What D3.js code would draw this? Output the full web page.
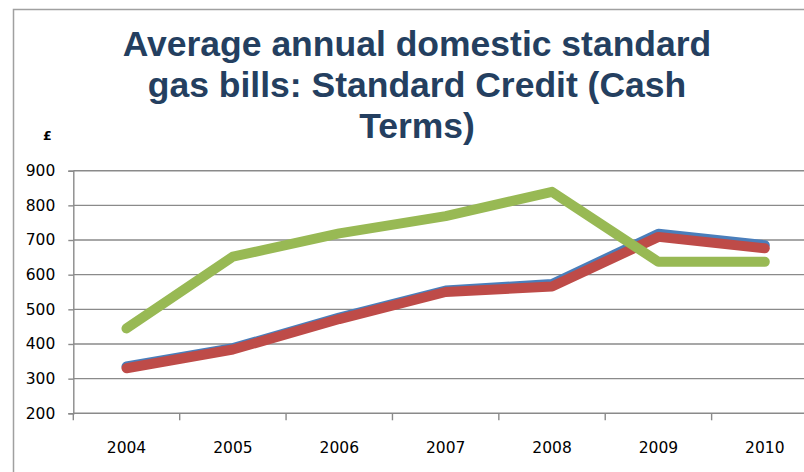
<!DOCTYPE html>
<html>
<head>
<meta charset="utf-8">
<script src="https://cdn.jsdelivr.net/npm/d3@7"></script>
<style>
  html, body { margin: 0; padding: 0; background: #ffffff; }
  svg { display: block; }
</style>
</head>
<body>
<script>
// ---- data ----
const years = ["2004", "2005", "2006", "2007", "2008", "2009", "2010"];
const seriesBlue  = [335, 388, 476, 554, 573, 718, 685];
const seriesRed   = [330, 384, 472, 550, 566, 709, 676];
const seriesGreen = [445, 652, 719, 769, 839, 637, 637];
const yTicks = [200, 300, 400, 500, 600, 700, 800, 900];
const titleLines = ["Average annual domestic standard", "gas bills: Standard Credit (Cash", "Terms)"];
const unitLabel = "£";

const W = 804, H = 472;
const svg = d3.select("body").append("svg").attr("width", W).attr("height", H);

// chart border (extends beyond the visible area on right and bottom)
svg.append("rect")
  .attr("x", 13.5).attr("y", 9.5)
  .attr("width", W + 20).attr("height", H + 20)
  .attr("fill", "#ffffff").attr("stroke", "#a0a0a0").attr("stroke-width", 1.5);

// title
const title = svg.append("text")
  .attr("text-anchor", "middle")
  .attr("font-family", "'Liberation Sans', Arimo, Arial, sans-serif")
  .attr("font-weight", "bold")
  .attr("font-size", 35.5)
  .attr("fill", "#243F60");
titleLines.forEach((t, i) => {
  title.append("tspan").attr("x", 417).attr("y", 56 + i * 41).text(t);
});

// unit label
svg.append("text")
  .attr("x", 43).attr("y", 140)
  .attr("font-family", "'DejaVu Sans', sans-serif")
  .attr("font-weight", "bold")
  .attr("font-size", 12.5)
  .attr("fill", "#000")
  .text(unitLabel);

// scales
const plotLeft = 73.3, plotRight = 818;
const x = d3.scaleBand().domain(years).range([plotLeft, plotRight]).padding(0);
const y = d3.scaleLinear().domain([200, 900]).range([413.3, 170.7]);

// gridlines
svg.append("g")
  .selectAll("line")
  .data(yTicks.filter(v => v > 200))
  .join("line")
  .attr("x1", plotLeft).attr("x2", W)
  .attr("y1", d => y(d)).attr("y2", d => y(d))
  .attr("stroke", "#8a8a8a").attr("stroke-width", 1.4);

// y axis
const yAxis = d3.axisLeft(y).tickValues(yTicks).tickSize(5).tickPadding(13).tickFormat(d3.format("d"));
const gy = svg.append("g").attr("transform", `translate(${plotLeft},0)`).call(yAxis);
gy.select(".domain").attr("stroke", "#8a8a8a").attr("stroke-width", 1.4);
gy.selectAll(".tick line").attr("stroke", "#8a8a8a").attr("stroke-width", 1.4);
gy.selectAll(".tick text")
  .attr("font-family", "'DejaVu Sans', sans-serif")
  .attr("font-size", 15.5)
  .attr("fill", "#000");

// x axis
const xAxis = d3.axisBottom(x).tickSize(0).tickPadding(0);
const gx = svg.append("g").attr("transform", `translate(0,${y(200)})`).call(xAxis);
gx.select(".domain").remove();
gx.append("line")
  .attr("x1", plotLeft).attr("x2", W).attr("y1", 0).attr("y2", 0)
  .attr("stroke", "#8a8a8a").attr("stroke-width", 1.4);
gx.selectAll(".tick text")
  .attr("y", 39.5)
  .attr("dy", 0)
  .attr("font-family", "'DejaVu Sans', sans-serif")
  .attr("font-size", 15.5)
  .attr("fill", "#000");
// category boundary tick marks
gx.selectAll(".bound")
  .data(years)
  .join("line")
  .attr("class", "bound")
  .attr("x1", d => x(d)).attr("x2", d => x(d))
  .attr("y1", 0).attr("y2", 7)
  .attr("stroke", "#8a8a8a").attr("stroke-width", 1.4);

// lines
const line = d3.line()
  .x((d, i) => x(years[i]) + x.bandwidth() / 2)
  .y(d => y(d));

const series = [
  { values: seriesBlue, color: "#4A7EBB" },
  { values: seriesRed, color: "#BE4B48" },
  { values: seriesGreen, color: "#98B954" }
];
svg.append("g")
  .selectAll("path")
  .data(series)
  .join("path")
  .attr("d", d => line(d.values))
  .attr("fill", "none")
  .attr("stroke", d => d.color)
  .attr("stroke-width", 10)
  .attr("stroke-linecap", "round")
  .attr("stroke-linejoin", "round");
</script>
</body>
</html>
